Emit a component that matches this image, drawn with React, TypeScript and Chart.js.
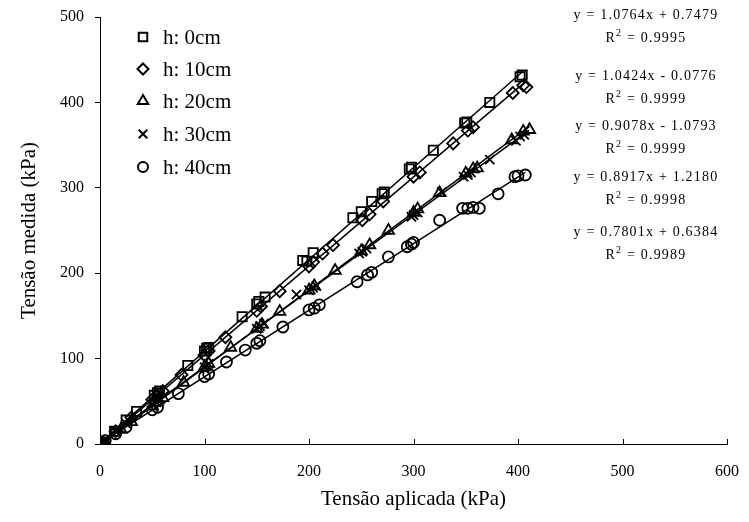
import React, { useEffect, useRef } from "react";
import { Chart, registerables } from "chart.js";
import { drawPoint } from "chart.js/helpers";

Chart.register(...registerables);

// ---- data ----
const seriesLabels = ["h: 0cm", "h: 10cm", "h: 20cm", "h: 30cm", "h: 40cm"];

const h0cm: number[][] = [
  [0, 0], [2, 2], [4, 1], [14, 15], [25, 28], [35, 38], [52, 57], [55, 60], [57, 62],
  [84, 92], [100, 109], [102, 112], [104, 113], [136, 149], [150, 164], [152, 167],
  [158, 172], [194, 215], [198, 214], [204, 224], [242, 265], [250, 272], [260, 284],
  [270, 293], [272, 295], [296, 322], [298, 324], [319, 344], [349, 376], [351, 377],
  [373, 400], [402, 430], [404, 432],
];
const h10cm: number[][] = [
  [0, 0], [3, 2], [15, 15], [30, 31], [50, 52], [55, 57], [60, 62], [78, 81], [100, 104],
  [104, 109], [120, 125], [150, 156], [154, 161], [172, 179], [200, 208], [204, 213],
  [213, 223], [223, 233], [251, 262], [258, 269], [271, 284], [300, 313], [306, 318],
  [338, 352], [352, 367], [357, 371], [395, 411], [405, 420], [408, 418],
];
const h20cm: number[][] = [
  [0, 0], [3, 1], [20, 17], [30, 26], [50, 44], [55, 49], [60, 54], [80, 72], [100, 90],
  [104, 94], [125, 113], [150, 135], [155, 140], [172, 155], [200, 180], [205, 185],
  [225, 203], [250, 226], [258, 233], [276, 250], [300, 271], [304, 275], [325, 294],
  [350, 317], [357, 322], [361, 323], [394, 356], [405, 366], [411, 368],
];
const h30cm: number[][] = [
  [0, 0], [4, 4], [15, 15], [25, 24], [50, 46], [54, 49], [58, 53], [100, 90], [104, 94],
  [150, 135], [153, 138], [157, 141], [188, 175], [200, 180], [204, 183], [207, 185],
  [248, 223], [251, 225], [255, 229], [298, 266], [300, 268], [304, 271], [327, 295],
  [348, 313], [352, 315], [355, 318], [373, 333], [398, 355], [402, 360], [406, 362],
];
const h40cm: number[][] = [
  [0, 0], [5, 4], [15, 12], [25, 20], [50, 40], [55, 43], [75, 59], [100, 79], [104, 82],
  [121, 96], [139, 110], [150, 118], [153, 121], [175, 137], [200, 157], [205, 159],
  [210, 163], [246, 190], [256, 198], [260, 201], [276, 219], [294, 231], [298, 234],
  [300, 236], [325, 262], [347, 276], [352, 276], [357, 277], [363, 276], [381, 293],
  [397, 313], [400, 314], [407, 315],
];

const seriesData = [h0cm, h10cm, h20cm, h30cm, h40cm];
const slopes = [1.0764, 1.0424, 0.9078, 0.8917, 0.7801];
const intercepts = [0.7479, -0.0776, -1.0793, 1.218, 0.6384];
const equationTexts = [
  "y = 1.0764x + 0.7479",
  "y = 1.0424x - 0.0776",
  "y = 0.9078x - 1.0793",
  "y = 0.8917x + 1.2180",
  "y = 0.7801x + 0.6384",
];
const r2Texts = ["0.9995", "0.9999", "0.9999", "0.9998", "0.9989"];

const xTicks = [0, 100, 200, 300, 400, 500, 600];
const yTicks = [0, 100, 200, 300, 400, 500];

// ---- styles ----
const pointStyles = ["rect", "rectRot", "triangle", "crossRot", "circle"];
const pointRadii = [6.5, 6, 6.5, 6.5, 5.5];
const FONT = "'Liberation Serif', 'Times New Roman', serif";

const legendPlugin = {
  id: "customLegendAndText",
  afterDatasetsDraw(chart: any) {
    const ctx = chart.ctx;
    ctx.save();
    // legend
    const legendY = [37, 69, 101, 134, 167];
    seriesLabels.forEach((lab, i) => {
      ctx.strokeStyle = "#000";
      ctx.fillStyle = "rgba(0,0,0,0)";
      ctx.lineWidth = 2;
      drawPoint(ctx, { pointStyle: pointStyles[i], radius: pointRadii[i] - 0.5, rotation: 0, borderWidth: 2 }, 143, legendY[i]);
      ctx.fillStyle = "#000";
      ctx.font = `21px ${FONT}`;
      ctx.textAlign = "left";
      ctx.textBaseline = "middle";
      ctx.fillText(lab, 163, legendY[i] + 1);
    });
    // equations
    const eqY = [15, 76, 126, 177, 232];
    const cx = 646;
    equationTexts.forEach((t, i) => {
      ctx.font = `14px ${FONT}`;
      (ctx as any).letterSpacing = "1.2px";
      ctx.textAlign = "center";
      ctx.textBaseline = "middle";
      ctx.fillStyle = "#000";
      ctx.fillText(t, cx, eqY[i]);
      // R² line
      const ry = eqY[i] + 23;
      const a = "R";
      const b = " = " + r2Texts[i];
      ctx.textAlign = "left";
      const wa = ctx.measureText(a).width;
      const wb = ctx.measureText(b).width;
      ctx.font = `10px ${FONT}`;
      const ws = ctx.measureText("2").width;
      const total = wa + ws + wb;
      const x0 = cx - total / 2;
      ctx.font = `14px ${FONT}`;
      ctx.fillText(a, x0, ry);
      ctx.font = `10px ${FONT}`;
      ctx.fillText("2", x0 + wa, ry - 5);
      ctx.font = `14px ${FONT}`;
      ctx.fillText(b, x0 + wa + ws, ry);
      (ctx as any).letterSpacing = "0px";
    });
    ctx.restore();
  },
  afterDraw(chart: any) {
    // x-axis tick marks pointing inward (up)
    const ctx = chart.ctx;
    const xs = chart.scales.x;
    const bottom = chart.chartArea.bottom;
    ctx.save();
    ctx.strokeStyle = "#000";
    ctx.lineWidth = 1;
    xTicks.forEach((v) => {
      const px = Math.round(xs.getPixelForValue(v)) + 0.5;
      ctx.beginPath();
      ctx.moveTo(px, bottom);
      ctx.lineTo(px, bottom - 5);
      ctx.stroke();
    });
    ctx.restore();
  },
};

export default function App() {
  const ref = useRef<HTMLCanvasElement | null>(null);
  useEffect(() => {
    const prevMargin = document.body.style.margin;
    document.body.style.margin = "0";
    if (!ref.current) return;
    const datasets: any[] = [];
    seriesData.forEach((d, i) => {
      const maxX = Math.max(...d.map((p) => p[0]));
      datasets.push({
        type: "line",
        label: seriesLabels[i] + " trend",
        data: [0, maxX].map((x) => ({ x, y: slopes[i] * x + intercepts[i] })),
        borderColor: "#000",
        borderWidth: 1.5,
        pointRadius: 0,
        fill: false,
        order: 2,
      });
    });
    seriesData.forEach((d, i) => {
      datasets.push({
        type: "scatter",
        label: seriesLabels[i],
        data: d.map((p) => ({ x: p[0], y: p[1] })),
        pointStyle: pointStyles[i],
        pointRadius: pointRadii[i],
        pointBorderWidth: 1.8,
        pointBorderColor: "#000",
        pointBackgroundColor: "rgba(0,0,0,0)",
        borderColor: "#000",
        backgroundColor: "rgba(0,0,0,0)",
        order: 1,
      });
    });
    const chart = new Chart(ref.current, {
      type: "scatter",
      data: { datasets },
      options: {
        animation: false,
        responsive: false,
        maintainAspectRatio: false,
        layout: { padding: { top: 17, right: 22, left: 0, bottom: 0 } },
        plugins: { legend: { display: false }, tooltip: { enabled: false } },
        scales: {
          x: {
            type: "linear",
            min: 0,
            max: 600,
            afterBuildTicks: (s: any) => { s.ticks = xTicks.map((v) => ({ value: v })); },
            afterFit: (s: any) => {
              s.height = 78;
              s.paddingLeft = 0;
              s.paddingRight = 0;
            },
            grid: { display: false, drawTicks: false },
            border: { display: true, color: "#000", width: 1 },
            ticks: { color: "#000", font: { family: FONT, size: 16 }, padding: 18, maxRotation: 0 },
            title: { display: true, text: "Tensão aplicada (kPa)", color: "#000", font: { family: FONT, size: 21 }, padding: { top: 4, bottom: 10 } },
          },
          y: {
            type: "linear",
            min: 0,
            max: 500,
            afterBuildTicks: (s: any) => { s.ticks = yTicks.map((v) => ({ value: v })); },
            afterFit: (s: any) => {
              s.width = 100;
              s.paddingTop = 0;
              s.paddingBottom = 0;
            },
            grid: { drawOnChartArea: false, drawTicks: true, tickLength: 5, color: "#000" },
            border: { display: true, color: "#000", width: 1 },
            ticks: { color: "#000", font: { family: FONT, size: 16 }, padding: 11 },
            title: { display: true, text: "Tensão medida (kPa)", color: "#000", font: { family: FONT, size: 21 }, padding: { top: 17, bottom: 0 } },
          },
        },
      },
      plugins: [legendPlugin],
    } as any);
    return () => {
      chart.destroy();
      document.body.style.margin = prevMargin;
    };
  }, []);
  return (
    <div style={{ position: "absolute", left: 0, top: 0, width: 749, height: 522, background: "#fff" }}>
      <canvas ref={ref} width={749} height={522} style={{ width: 749, height: 522 }} />
    </div>
  );
}
